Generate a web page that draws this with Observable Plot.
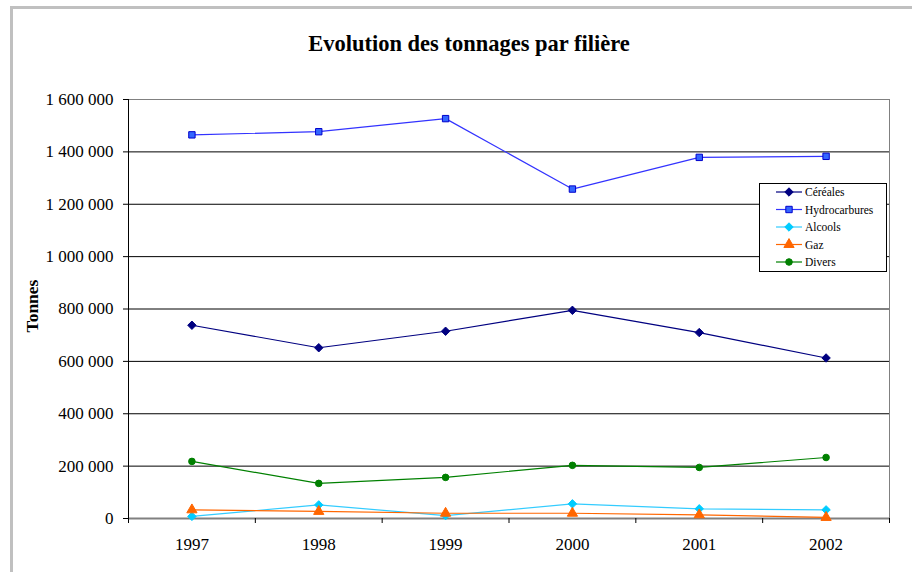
<!DOCTYPE html>
<html>
<head>
<meta charset="utf-8">
<script src="https://cdn.jsdelivr.net/npm/d3@7"></script>
<script src="https://cdn.jsdelivr.net/npm/@observablehq/plot@0.6"></script>
<style>
  html, body { margin: 0; padding: 0; background: #fff; }
  #wrap { position: relative; width: 912px; height: 572px; overflow: hidden; font-family: "Liberation Serif", "Times New Roman", serif; }
  #wrap svg, #wrap svg text { font-family: "Liberation Serif", "Times New Roman", serif !important; }
  #frame { position: absolute; left: 10px; top: 6px; width: 1000px; height: 700px; border-left: 3px solid #c0c0c0; border-top: 3px solid #c0c0c0; box-sizing: border-box; }
  #title { position: absolute; left: 0; width: 938px; top: 31px; text-align: center; font-weight: bold; font-size: 22.5px; color: #000; }
  #ylabel { position: absolute; left: 32px; top: 306px; transform: translate(-50%, -50%) rotate(-90deg); font-weight: bold; font-size: 17.5px; white-space: nowrap; }
  #chart { position: absolute; left: 0; top: 0; }
  #legend { position: absolute; left: 759px; top: 183px; }
</style>
</head>
<body>
<div id="wrap">
  <div id="frame"></div>
  <div id="chart"></div>
  <div id="title">Evolution des tonnages par filière</div>
  <div id="ylabel">Tonnes</div>
  <div id="legend"></div>
</div>
<script>
const years = [1997, 1998, 1999, 2000, 2001, 2002];
const cereales = [738000, 652000, 715000, 795000, 710000, 613000];
const hydrocarbures = [1465000, 1477000, 1527000, 1258000, 1379000, 1383000];
const alcools = [8000, 52000, 11000, 56000, 37000, 33000];
const gaz = [33000, 27000, 20000, 20000, 14000, 4000];
const divers = [218000, 134000, 157000, 203000, 195000, 233000];
const yTicks = [0, 200000, 400000, 600000, 800000, 1000000, 1200000, 1400000, 1600000];

const series = [
  {name: "Céréales", values: cereales, line: "#000080", fill: "#000080", stroke: "#000080", symbol: "diamond2", r: 3.8},
  {name: "Hydrocarbures", values: hydrocarbures, line: "#3333ff", fill: "#3366ff", stroke: "#0000cc", symbol: "square", r: 3.6},
  {name: "Alcools", values: alcools, line: "#33ccff", fill: "#00ccff", stroke: "#00ccff", symbol: "diamond2", r: 3.8},
  {name: "Gaz", values: gaz, line: "#ff6600", fill: "#ff6600", stroke: "#ff6600", symbol: "triangle", r: 3.8},
  {name: "Divers", values: divers, line: "#008000", fill: "#008000", stroke: "#008000", symbol: "circle", r: 3.3}
];

const data = series.flatMap(s => years.map((y, i) => ({series: s.name, year: y, value: s.values[i]})));
const boundaries = d3.range(years.length + 1).map(i => years[0] - 0.5 + i);
const fmt = v => d3.format(",")(v).replace(/,/g, " ");

const marks = [
  Plot.ruleY(yTicks.filter(t => t > 0 && t < 1600000), {y: d => d, stroke: "#000", strokeWidth: 1, strokeOpacity: 1}),
  Plot.frame({stroke: "#808080", strokeWidth: 1}),
  Plot.ruleY([0], {stroke: "#808080", strokeWidth: 2}),
  Plot.ruleX([years[0] - 0.5], {stroke: "#000", strokeWidth: 1}),
  Plot.axisY({ticks: yTicks, tickFormat: fmt, tickSize: 5, tickPadding: 10, fontSize: 17, stroke: "#000", strokeOpacity: 1, label: null}),
  Plot.axisX({ticks: boundaries, tickFormat: () => "", tickSize: 5, stroke: "#000", strokeOpacity: 1, label: null}),
  Plot.axisX({ticks: years, tickFormat: d => String(d), tickSize: 0, tickPadding: 19, fontSize: 17, label: null})
];
for (const s of series) {
  const d = data.filter(e => e.series === s.name);
  marks.push(Plot.line(d, {x: "year", y: "value", stroke: s.line, strokeWidth: 1.2}));
  marks.push(Plot.dot(d, {x: "year", y: "value", symbol: () => s.symbol, r: s.r, fill: s.fill, stroke: s.stroke, strokeWidth: 1}));
}

const chart = Plot.plot({
  width: 912,
  height: 572,
  marginLeft: 128,
  marginRight: 23,
  marginTop: 99,
  marginBottom: 54,
  style: {fontFamily: "Liberation Serif, serif", fontSize: "17px", color: "#000", background: "transparent"},
  x: {type: "linear", domain: [years[0] - 0.5, years[years.length - 1] + 0.5], axis: null, label: null},
  y: {domain: [0, 1600000], axis: null, label: null},
  symbol: {type: "identity"},
  marks
});
document.getElementById("chart").appendChild(chart);

// legend
const lw = 128, lh = 89;
const svg = d3.select("#legend").append("svg").attr("width", lw).attr("height", lh);
svg.append("rect").attr("x", 0.5).attr("y", 0.5).attr("width", lw - 1).attr("height", lh - 1).attr("fill", "#fff").attr("stroke", "#000");
const symGen = {diamond2: d3.symbolDiamond2, square: d3.symbolSquare, triangle: d3.symbolTriangle, circle: d3.symbolCircle};
series.forEach((s, i) => {
  const cy = 9 + i * 17.5;
  const g = svg.append("g").attr("transform", `translate(0,${cy})`);
  g.append("line").attr("x1", 17).attr("x2", 43).attr("y1", 0).attr("y2", 0).attr("stroke", s.line).attr("stroke-width", 1.2);
  g.append("path").attr("transform", "translate(30,0)").attr("d", d3.symbol(symGen[s.symbol], Math.PI * s.r * s.r)()).attr("fill", s.fill).attr("stroke", s.stroke);
  g.append("text").attr("x", 46).attr("y", 0).attr("dy", "0.35em").attr("font-size", 11.5).text(s.name);
});
</script>
</body>
</html>
